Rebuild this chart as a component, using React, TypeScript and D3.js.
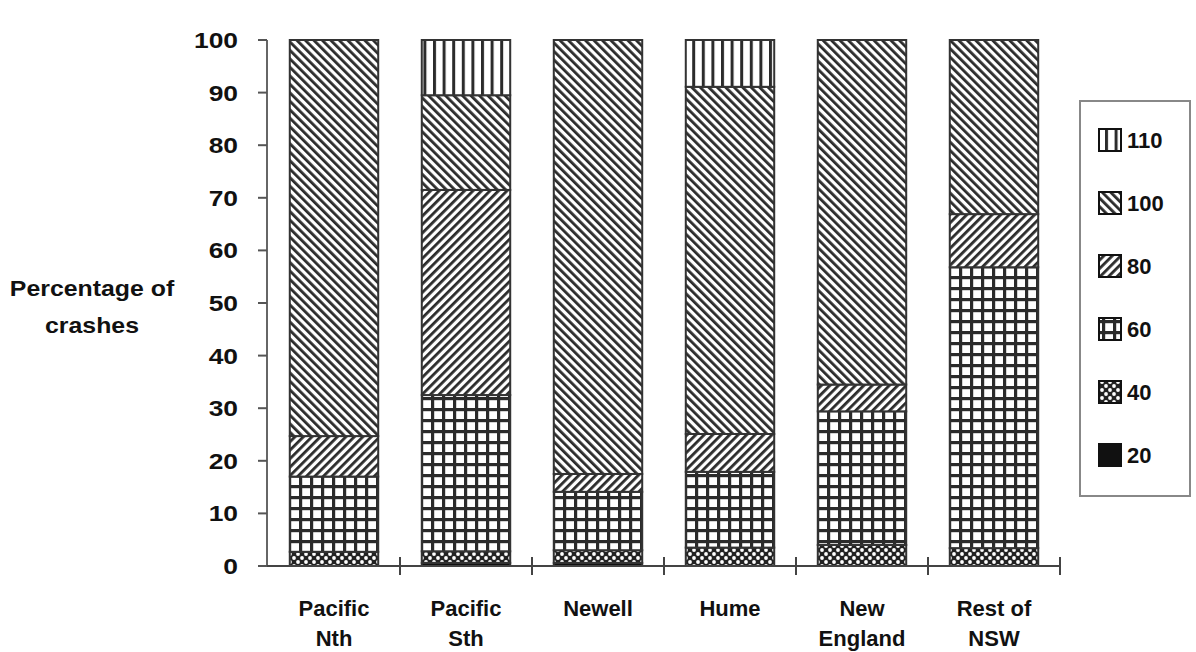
import React from "react";
import * as d3 from "d3";

// Crash share by speed zone (km/h) along each route, stacked to 100%.
const categories = ["Pacific Nth", "Pacific Sth", "Newell", "Hume", "New England", "Rest of NSW"];
const categoryLines = [["Pacific", "Nth"], ["Pacific", "Sth"], ["Newell"], ["Hume"], ["New", "England"], ["Rest of", "NSW"]];
const speedZones = ["20", "40", "60", "80", "100", "110"];

const zone20 = [0, 0.6, 0.6, 0, 0, 0];
const zone40 = [2.7, 2.2, 2.4, 3.5, 4.0, 3.4];
const zone60 = [14.3, 29.7, 11.1, 14.4, 25.4, 53.4];
const zone80 = [7.7, 39.0, 3.4, 7.2, 5.1, 10.1];
const zone100 = [75.3, 18.0, 82.5, 66.0, 65.5, 33.1];
const zone110 = [0, 10.5, 0, 8.9, 0, 0];

const legendOrder = ["110", "100", "80", "60", "40", "20"];
const yTicks = [0, 10, 20, 30, 40, 50, 60, 70, 80, 90, 100];

const W = 1196;
const H = 652;
const FONT = "'Liberation Sans', Arial, Helvetica, sans-serif";
const INK = "#2b2b2b";

const x = d3.scaleBand<string>().domain(categories).range([268, 1060]).paddingInner(0.33).paddingOuter(0.165);
const y = d3.scaleLinear().domain([0, 100]).range([566, 40]);

const rows = categories.map((c, i) => ({
  cat: c,
  "20": zone20[i],
  "40": zone40[i],
  "60": zone60[i],
  "80": zone80[i],
  "100": zone100[i],
  "110": zone110[i],
}));
const series = d3.stack<any>().keys(speedZones)(rows);

const fillFor = (k: string) => `url(#pat${k})`;

function Patterns() {
  return (
    <defs>
      <pattern id="pat20" patternUnits="userSpaceOnUse" width={6} height={6}>
        <rect width={6} height={6} fill="#111" />
      </pattern>
      <pattern id="pat40" patternUnits="userSpaceOnUse" width={8} height={8}>
        <rect width={8} height={8} fill="#222" />
        <circle cx={2} cy={2} r={1.9} fill="#fff" />
        <circle cx={6} cy={6} r={1.9} fill="#fff" />
      </pattern>
      <pattern id="pat60" patternUnits="userSpaceOnUse" width={11} height={11} x={2} y={1}>
        <rect width={11} height={11} fill="#fff" />
        <rect x={0} y={0} width={3.2} height={11} fill={INK} />
        <rect x={0} y={0} width={11} height={3.2} fill={INK} />
      </pattern>
      <pattern id="pat80" patternUnits="userSpaceOnUse" width={6} height={10} patternTransform="rotate(45)">
        <rect width={6} height={10} fill="#fff" />
        <rect x={0} y={0} width={2.8} height={10} fill={INK} />
      </pattern>
      <pattern id="pat100" patternUnits="userSpaceOnUse" width={6} height={10} patternTransform="rotate(-45)">
        <rect width={6} height={10} fill="#fff" />
        <rect x={0} y={0} width={2.8} height={10} fill={INK} />
      </pattern>
      <pattern id="pat110" patternUnits="userSpaceOnUse" width={9.6} height={10} x={1}>
        <rect width={9.6} height={10} fill="#fff" />
        <rect x={0} y={0} width={3} height={10} fill={INK} />
      </pattern>
    </defs>
  );
}

export default function App() {
  const step = x.step();
  const gap = step - x.bandwidth();
  const boundaries = categories.map((c) => (x(c) as number) + x.bandwidth() + gap / 2);

  return (
    <svg width={W} height={H} style={{ position: "absolute", left: 0, top: 0, background: "#fff" }}>
      <Patterns />

      {/* stacked bars */}
      {series.map((s) => (
        <g key={s.key}>
          {s.map((d, i) => {
            const h = y(d[0]) - y(d[1]);
            if (h <= 0) return null;
            return (
              <rect
                key={categories[i]}
                x={x(categories[i])}
                y={y(d[1])}
                width={x.bandwidth()}
                height={h}
                fill={fillFor(s.key)}
                stroke="#333"
                strokeWidth={2}
              />
            );
          })}
        </g>
      ))}

      {/* y axis */}
      <line x1={267} x2={267} y1={y(100)} y2={y(0)} stroke="#666" strokeWidth={2} />
      {yTicks.map((t) => (
        <g key={t}>
          <line x1={258} x2={267} y1={y(t)} y2={y(t)} stroke="#555" strokeWidth={2} />
          <g transform={`translate(238,${y(t) + 8}) scale(1.2,1)`}>
            <text x={0} y={0} textAnchor="end" fontFamily={FONT} fontWeight="bold" fontSize={22} fill="#111">
              {t}
            </text>
          </g>
        </g>
      ))}

      {/* x axis */}
      <line x1={267} x2={1060} y1={y(0)} y2={y(0)} stroke="#444" strokeWidth={2} />
      {boundaries.map((bx, i) => (
        <line key={i} x1={bx} x2={bx} y1={y(0) - 9} y2={y(0) + 9} stroke="#444" strokeWidth={2} />
      ))}
      {categories.map((c, i) => (
        <text
          key={c}
          x={(x(c) as number) + x.bandwidth() / 2}
          textAnchor="middle"
          fontFamily={FONT}
          fontWeight="bold"
          fontSize={22}
          fill="#111"
        >
          {categoryLines[i].map((ln, j) => (
            <tspan key={j} x={(x(c) as number) + x.bandwidth() / 2} y={616 + j * 30}>
              {ln}
            </tspan>
          ))}
        </text>
      ))}

      {/* y title */}
      <g transform="translate(92,0) scale(1.13,1)">
        <text textAnchor="middle" fontFamily={FONT} fontWeight="bold" fontSize={22} fill="#111">
          <tspan x={0} y={296}>Percentage of</tspan>
          <tspan x={0} y={333}>crashes</tspan>
        </text>
      </g>

      {/* legend */}
      <rect x={1080} y={101} width={110} height={395} fill="none" stroke="#888" strokeWidth={2} />
      {legendOrder.map((k, i) => {
        const cy = 140 + i * 63;
        return (
          <g key={k}>
            <rect x={1099} y={cy - 11} width={22} height={22} fill={fillFor(k)} stroke="#111" strokeWidth={2} />
            <text x={1127} y={cy + 8} fontFamily={FONT} fontWeight="bold" fontSize={22} fill="#111">
              {k}
            </text>
          </g>
        );
      })}
    </svg>
  );
}
